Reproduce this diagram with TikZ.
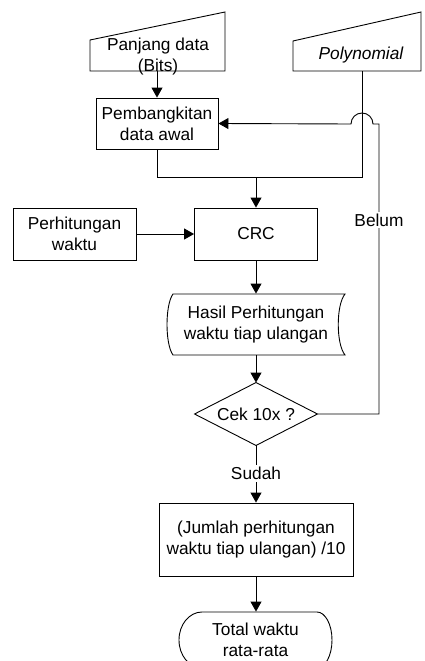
\documentclass[tikz,border=0pt]{standalone}
\usepackage{fontspec}
\setmainfont{Liberation Sans}
\usetikzlibrary{arrows.meta}
\begin{document}
\begin{tikzpicture}[x=1pt,y=-1pt,
  font=\fontsize{17.3}{21}\selectfont,
  line width=0.9pt,
  arr/.style={-{Triangle[length=10pt,width=11pt]}},
  proc/.style={draw, rectangle, inner sep=0pt, align=center},
  area/.style={rectangle, inner sep=0pt, align=center},
  lbl/.style={inner sep=2pt, align=center, fill=white},
  ]
\useasboundingbox (0,0) rectangle (424,661);
\clip (0,0) rectangle (424,661);

% manual inputs
\node[area, minimum width=135pt, minimum height=59pt] (pd) at (157.5,41.5) {};
\draw (90,71) -- (90,40) -- (225,12) -- (225,71) -- cycle;
\node[area] (pdt) at (158,56.5) {Panjang data\\(Bits)};

\node[area, minimum width=128pt, minimum height=59pt] (poly) at (357,41.5) {};
\draw (293,71) -- (293,41) -- (421,12) -- (421,71) -- cycle;
\node[area] (polyt) at (361,55) {\itshape Polynomial};

% processes
\node[proc, minimum width=122pt, minimum height=51pt] (pb) at (157,123.5) {Pembangkitan\\data awal};
\node[proc, minimum width=123pt, minimum height=52pt] (ph) at (74.5,234) {Perhitungan\\waktu};
\node[proc, minimum width=123pt, minimum height=52pt] (crc) at (256,234) {CRC};

% stored data
\node[area, minimum width=178pt, minimum height=61pt] (hasil) at (256,324.5) {Hasil Perhitungan\\waktu tiap ulangan};
\draw (173,294) -- (345,294) .. controls (336,305) and (336,344) .. (345,355)
      -- (173,355) .. controls (165,344) and (165,305) .. (173,294) -- cycle;

% decision
\node[area, minimum width=122pt, minimum height=62pt] (cek) at (256,414) {Cek 10x ?};
\draw (cek.north) -- (cek.east) -- (cek.south) -- (cek.west) -- cycle;

\node[proc, minimum width=194pt, minimum height=73pt] (jml) at (256,539.5) {(Jumlah perhitungan\\waktu tiap ulangan) /10};

% terminal
\node[area, minimum width=153pt, minimum height=56pt] (tot) at (255.5,640) {Total waktu\\rata-rata};
\draw (202,612) -- (317,612)
      arc[start angle=90, end angle=-90, x radius=15pt, y radius=28pt]
      -- (202,668)
      arc[start angle=270, end angle=90, x radius=23pt, y radius=28pt] -- cycle;

% connectors
\coordinate (pj) at (362,177);
\coordinate (lr) at (379,414);
\coordinate (lt) at (379,124);
\coordinate (hop) at (373,124);

\draw[arr] (pd.south -| pb) -- (pb.north);
\draw (poly.south -| pj) -- (pj) -- (pj -| pb.south) -- (pb.south);
\draw[arr] (pj -| crc.north) -- (crc.north);
\draw[arr] (ph.east) -- (crc.west);
\draw[arr] (crc.south) -- (hasil.north);
\draw[arr] (hasil.south) -- (cek.north);
\draw[arr] (cek.south) -- node[lbl, pos=0.49] {Sudah} (jml.north);
\draw[arr] (jml.south) -- (tot.north -| jml.south);
\draw[arr] (cek.east) -- (lr) -- node[lbl, pos=0.669] {Belum} (lt) -- (hop)
      arc[start angle=0, end angle=180, radius=11pt] -- (pb.east);
\end{tikzpicture}
\end{document}
